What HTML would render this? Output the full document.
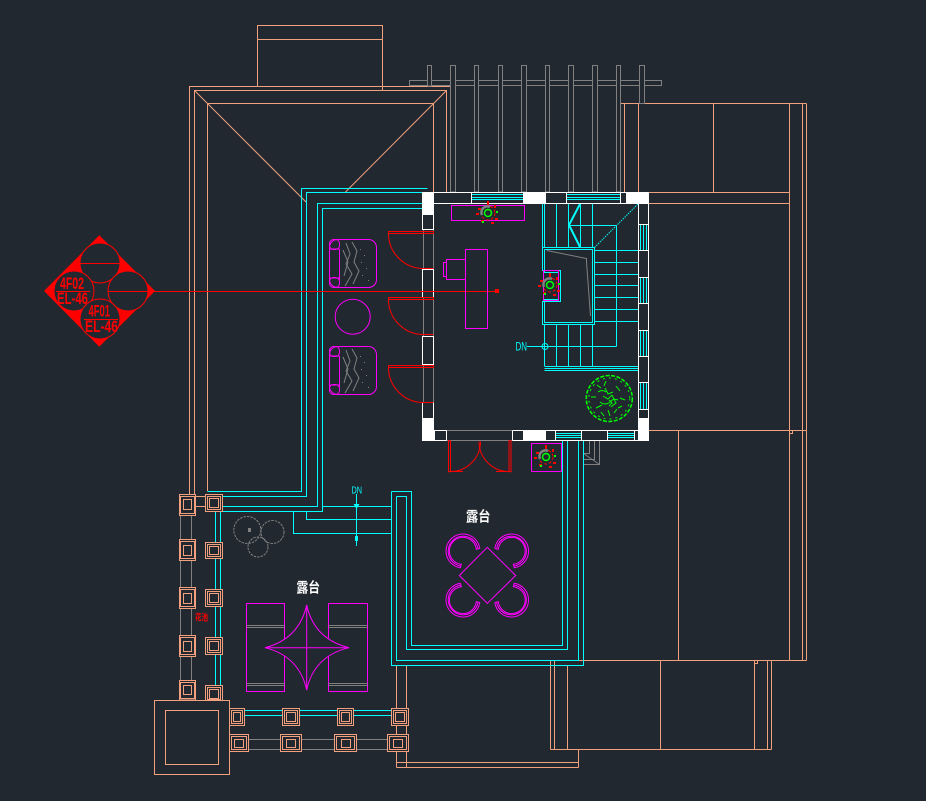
<!DOCTYPE html>
<html><head><meta charset="utf-8">
<style>html,body{margin:0;padding:0;background:#212830;}svg{display:block}</style>
</head><body>
<svg width="926" height="801" viewBox="0 0 926 801" xmlns="http://www.w3.org/2000/svg" fill="none" stroke-width="1">
<rect width="926" height="801" fill="#212830"/>

<!-- ORANGE structure -->
<g stroke="#f2a07e" shape-rendering="crispEdges">
  <rect x="257.5" y="25.5" width="125" height="61"/>
  <line x1="257.5" y1="39.5" x2="382.5" y2="39.5"/>
  <line x1="382.5" y1="86" x2="382.5" y2="90.5"/>
  <polyline points="189.5,494 189.5,86.5 450.5,86.5"/>
  <polyline points="194.5,494 194.5,90.5 446.5,90.5 446.5,192"/>
  <polyline points="207.5,491 207.5,103.5 433.5,103.5 433.5,192"/>
  <line x1="620" y1="103.5" x2="806.5" y2="103.5"/>
  <line x1="620.5" y1="103.5" x2="620.5" y2="192"/>
  <line x1="624.5" y1="103.5" x2="624.5" y2="192"/>
  <line x1="638.5" y1="103.5" x2="638.5" y2="192"/>
  <line x1="713.5" y1="103.5" x2="713.5" y2="192"/>
  <line x1="789.5" y1="103.5" x2="789.5" y2="660.5"/>
  <line x1="802.5" y1="103.5" x2="802.5" y2="660.5"/>
  <line x1="806.5" y1="103.5" x2="806.5" y2="660.5"/>
  <line x1="648.7" y1="192.5" x2="789.5" y2="192.5"/>
  <line x1="648.7" y1="203.5" x2="789.5" y2="203.5"/>
  <line x1="649" y1="430.5" x2="806.5" y2="430.5"/>
  <rect x="789.5" y="430.5" width="3" height="3"/>
  <line x1="678.5" y1="430.5" x2="678.5" y2="660.5"/>
  <line x1="550" y1="660.5" x2="806.5" y2="660.5"/>
  <rect x="754.5" y="660.5" width="3" height="3"/>
  <line x1="550.5" y1="660.5" x2="550.5" y2="749.5"/>
  <line x1="554.5" y1="660.5" x2="554.5" y2="749.5"/>
  <line x1="567.5" y1="666" x2="567.5" y2="749.5"/>
  <line x1="660.5" y1="660.5" x2="660.5" y2="749.5"/>
  <line x1="754.5" y1="660.5" x2="754.5" y2="749.5"/>
  <line x1="767.5" y1="660.5" x2="767.5" y2="749.5"/>
  <line x1="771.5" y1="660.5" x2="771.5" y2="749.5"/>
  <line x1="550.5" y1="749.5" x2="771.5" y2="749.5"/>
  <line x1="578.5" y1="749.5" x2="578.5" y2="767.5"/>
  <line x1="396.5" y1="762.5" x2="578.5" y2="762.5"/>
  <line x1="396.5" y1="767.5" x2="578.5" y2="767.5"/>
  <line x1="396.5" y1="666" x2="396.5" y2="767.5"/>
  <line x1="406.5" y1="666" x2="406.5" y2="767.5"/>
  <line x1="195.5" y1="496.5" x2="205.5" y2="496.5"/>
  <line x1="195.5" y1="506.5" x2="205.5" y2="506.5"/>
</g>
<g stroke="#f2a07e">
  <line x1="194.5" y1="90.5" x2="306" y2="202"/>
  <line x1="446.5" y1="90.5" x2="345.5" y2="192"/>
</g>

<!-- GRAY pergola -->
<g stroke="#808080" shape-rendering="crispEdges">
  <rect x="409.5" y="80.5" width="252" height="5"/>
  <g fill="#212830">
    <rect x="427.5" y="65.5" width="4" height="20.5"/>
    <rect x="450.5" y="65.5" width="5" height="126.5"/>
    <rect x="474.5" y="65.5" width="4" height="126.5"/>
    <rect x="498.5" y="65.5" width="4" height="126.5"/>
    <rect x="521.5" y="65.5" width="5" height="126.5"/>
    <rect x="545.5" y="65.5" width="4" height="126.5"/>
    <rect x="568.5" y="65.5" width="5" height="126.5"/>
    <rect x="592.5" y="65.5" width="5" height="126.5"/>
    <rect x="616.5" y="65.5" width="4" height="126.5"/>
    <rect x="639.5" y="65.5" width="5" height="38"/>
  </g>
  <line x1="180.5" y1="494" x2="180.5" y2="700"/>
  <line x1="191.5" y1="494" x2="191.5" y2="700"/>
  <line x1="229" y1="739.5" x2="408" y2="739.5"/>
  <line x1="229" y1="749.5" x2="408" y2="749.5"/>
  <polyline points="589.5,441 589.5,453.5 583.5,453.5"/>
  <polyline points="594.5,441 594.5,459.5 583.5,459.5"/>
  <polyline points="599.5,441 599.5,464.5 583.5,464.5"/>
  <line x1="446.7" y1="430.5" x2="512.3" y2="430.5"/>
  <line x1="446.7" y1="440.5" x2="512.3" y2="440.5"/>
  <line x1="423.5" y1="230" x2="423.5" y2="269"/>
  <line x1="433.5" y1="230" x2="433.5" y2="269"/>
  <line x1="423.5" y1="297" x2="423.5" y2="337"/>
  <line x1="433.5" y1="297" x2="433.5" y2="337"/>
  <line x1="423.5" y1="365" x2="423.5" y2="403"/>
  <line x1="433.5" y1="365" x2="433.5" y2="403"/>
</g>
<line x1="583.5" y1="453.5" x2="599.5" y2="464.5" stroke="#808080"/>

<!-- CYAN -->
<g stroke="#00ffff" shape-rendering="crispEdges">
  <polyline points="427.5,188.5 301.5,188.5 301.5,491.5 207.5,491.5"/>
  <polyline points="422.5,192.5 306.5,192.5 306.5,496.5 222.5,496.5"/>
  <polyline points="422.5,203.5 317.5,203.5 317.5,506.5 222.5,506.5"/>
  <polyline points="422.5,208.5 322.5,208.5 322.5,511.5 222.5,511.5"/>
  <line x1="322.5" y1="506.5" x2="391.5" y2="506.5"/>
  <polyline points="306.5,511.5 306.5,519.5 391.5,519.5"/>
  <polyline points="293.5,511.5 293.5,533.5 391.5,533.5"/>
  <polyline points="215.5,511.5 215.5,715.5 391.5,715.5"/>
  <polyline points="220.5,511.5 220.5,710.5 391.5,710.5"/>
  <polyline points="391.5,491.5 411.5,491.5 411.5,645.5 562.5,645.5 562.5,441"/>
  <polyline points="396.5,496.5 406.5,496.5 406.5,649.5 567.5,649.5 567.5,441"/>
  <polyline points="391.5,491.5 391.5,665.5 583.5,665.5 583.5,441"/>
  <polyline points="396.5,496.5 396.5,660.5 578.5,660.5 578.5,441"/>
  <line x1="356.5" y1="494" x2="356.5" y2="546"/>
  <line x1="471" y1="194.5" x2="523" y2="194.5"/>
  <line x1="471" y1="197.5" x2="523" y2="197.5"/>
  <line x1="471" y1="199.5" x2="523" y2="199.5"/>
  <line x1="566" y1="194.5" x2="620" y2="194.5"/>
  <line x1="566" y1="197.5" x2="620" y2="197.5"/>
  <line x1="566" y1="199.5" x2="620" y2="199.5"/>
  <line x1="555.7" y1="433.5" x2="581.3" y2="433.5"/>
  <line x1="555.7" y1="435.5" x2="581.3" y2="435.5"/>
  <line x1="555.7" y1="437.5" x2="581.3" y2="437.5"/>
  <line x1="607.7" y1="433.5" x2="634" y2="433.5"/>
  <line x1="607.7" y1="435.5" x2="634" y2="435.5"/>
  <line x1="607.7" y1="437.5" x2="634" y2="437.5"/>
  <path d="M640.5,224.3V250.7M643.5,224.3V250.7M646.5,224.3V250.7M640.5,277V303.3M643.5,277V303.3M646.5,277V303.3M640.5,330V356.3M643.5,330V356.3M646.5,330V356.3M640.5,382.3V409.3M643.5,382.3V409.3M646.5,382.3V409.3"/>
  <polyline points="542.5,247.5 594.5,247.5 594.5,324.5 542.5,324.5 542.5,301.5 560.5,301.5 560.5,270.5 542.5,270.5 542.5,247.5"/>
  <polyline points="544.5,249.5 592.5,249.5 592.5,322.5 544.5,322.5 544.5,299.5 558.5,299.5 558.5,272.5 544.5,272.5 544.5,249.5"/>
  <path d="M542.5,203.7V247.5M544.5,203.7V247.5M556.5,203.7V247.5M568.5,203.7V247.5M580.5,203.7V247.5M592.5,203.7V247.5"/>
  <line x1="568.5" y1="225.5" x2="616.5" y2="225.5"/>
  <line x1="616.5" y1="225.5" x2="616.5" y2="346.5"/>
  <path d="M594.5,250.5H638.3M594.5,262.5H638.3M594.5,274.5H638.3M594.5,285.5H638.3M594.5,297.5H638.3M594.5,309.5H638.3M594.5,321.5H638.3"/>
  <path d="M544.5,324.5V366M556.5,324.5V366M568.5,324.5V366M580.5,324.5V366M592.5,324.5V366"/>
  <line x1="527" y1="346.5" x2="616.5" y2="346.5"/>
  <path d="M544.5,366.5H638.3M544.5,368.5H638.3M544.5,370.5H638.3"/>
</g>
<g stroke="#00ffff">
  <line x1="594.5" y1="247.5" x2="638.3" y2="203.7" stroke-dasharray="1.5 1"/>
  <polyline points="580,204 569,225 580,247" stroke-width="2"/>
  <circle cx="545" cy="346.5" r="3"/>
  <line x1="542" y1="346.5" x2="548" y2="346.5"/>
</g>
<polygon points="353.5,504 359.5,504 356.5,509" fill="#00ffff"/>
<rect x="355" y="536" width="3" height="5" fill="#00ffff"/>
<text x="0" y="0" transform="translate(515.5,350.5) scale(1,1.2)" font-family="Liberation Sans, sans-serif" font-size="10" fill="#00ffff" textLength="11.5" lengthAdjust="spacingAndGlyphs">DN</text>
<text x="0" y="0" transform="translate(351.5,493.5) scale(1,1.2)" font-family="Liberation Sans, sans-serif" font-size="8.5" fill="#00ffff" textLength="10.5" lengthAdjust="spacingAndGlyphs">DN</text>

<!-- COLUMNS -->
<g stroke="#f2a07e" shape-rendering="crispEdges">
  <rect x="154.5" y="700.5" width="75" height="74" fill="#212830"/>
  <rect x="165.5" y="710.5" width="53" height="54"/>
  <g fill="#212830">
    <rect x="179.5" y="494.5" width="16" height="21"/>
    <rect x="179.5" y="539.5" width="16" height="21"/>
    <rect x="179.5" y="587.5" width="16" height="21"/>
    <rect x="179.5" y="635.5" width="16" height="21"/>
    <rect x="179.5" y="680.5" width="16" height="19.5"/>
  </g>
  <rect x="180.5" y="496.5" width="14" height="17"/><rect x="183.5" y="499.5" width="8" height="10"/>
  <rect x="180.5" y="541.5" width="14" height="17"/><rect x="183.5" y="545.5" width="8" height="10"/>
  <rect x="180.5" y="589.5" width="14" height="17"/><rect x="183.5" y="593.5" width="8" height="10"/>
  <rect x="180.5" y="637.5" width="14" height="17"/><rect x="183.5" y="641.5" width="8" height="10"/>
  <rect x="180.5" y="682.5" width="14" height="16"/><rect x="183.5" y="685.5" width="8" height="9"/>
  <g fill="#212830">
    <rect x="205.5" y="494.5" width="17" height="17"/>
    <rect x="205.5" y="542.5" width="17" height="16"/>
    <rect x="205.5" y="589.5" width="17" height="17"/>
    <rect x="205.5" y="637.5" width="17" height="17"/>
    <rect x="205.5" y="685.5" width="17" height="15"/>
  </g>
  <rect x="207.5" y="496.5" width="13" height="13"/><rect x="209.5" y="498.5" width="9" height="9"/>
  <rect x="207.5" y="544.5" width="13" height="12"/><rect x="209.5" y="546.5" width="9" height="8"/>
  <rect x="207.5" y="591.5" width="13" height="13"/><rect x="209.5" y="593.5" width="9" height="9"/>
  <rect x="207.5" y="639.5" width="13" height="13"/><rect x="209.5" y="641.5" width="9" height="9"/>
  <rect x="207.5" y="687.5" width="13" height="12"/><rect x="209.5" y="689.5" width="9" height="9"/>
  <g fill="#212830">
    <rect x="229.5" y="708.5" width="15" height="17"/>
    <rect x="282.5" y="708.5" width="17" height="17"/>
    <rect x="337.5" y="708.5" width="16" height="17"/>
    <rect x="391.5" y="708.5" width="17" height="17"/>
  </g>
  <rect x="231.5" y="710.5" width="11" height="13"/><rect x="233.5" y="712.5" width="7" height="9"/>
  <rect x="284.5" y="710.5" width="13" height="13"/><rect x="286.5" y="712.5" width="9" height="9"/>
  <rect x="339.5" y="710.5" width="12" height="13"/><rect x="341.5" y="712.5" width="8" height="9"/>
  <rect x="393.5" y="710.5" width="13" height="13"/><rect x="395.5" y="712.5" width="9" height="9"/>
  <g fill="#212830">
    <rect x="229.5" y="734.5" width="19" height="17"/>
    <rect x="280.5" y="734.5" width="21" height="17"/>
    <rect x="334.5" y="734.5" width="22" height="17"/>
    <rect x="387.5" y="734.5" width="21" height="17"/>
  </g>
  <rect x="231.5" y="736.5" width="15" height="13"/><rect x="234.5" y="739.5" width="9" height="8"/>
  <rect x="282.5" y="736.5" width="17" height="13"/><rect x="286.5" y="739.5" width="9" height="8"/>
  <rect x="336.5" y="736.5" width="18" height="13"/><rect x="341.5" y="739.5" width="9" height="8"/>
  <rect x="389.5" y="736.5" width="17" height="13"/><rect x="393.5" y="739.5" width="9" height="8"/>
</g>

<!-- WHITE WALLS -->
<g stroke="#ffffff" shape-rendering="crispEdges">
  <line x1="422" y1="192.5" x2="649" y2="192.5"/>
  <line x1="433.5" y1="203.5" x2="638.5" y2="203.5"/>
  <line x1="648.5" y1="192" x2="648.5" y2="441"/>
  <line x1="638.5" y1="203.5" x2="638.5" y2="430.5"/>
  <line x1="422" y1="440.5" x2="446.7" y2="440.5"/>
  <line x1="512.3" y1="440.5" x2="649" y2="440.5"/>
  <line x1="433.5" y1="430.5" x2="446.7" y2="430.5"/>
  <line x1="512.3" y1="430.5" x2="638.5" y2="430.5"/>
  <rect x="422.5" y="214.5" width="11" height="15"/>
  <rect x="422.5" y="269.5" width="11" height="28"/>
  <rect x="422.5" y="336.5" width="11" height="28"/>
  <rect x="422.5" y="402.5" width="11" height="16"/>
  <path d="M471.5,192.5V203.5M523.5,192.5V203.5M545.5,192.5V203.5M566.5,192.5V203.5M620.5,192.5V203.5M626.5,192.5V203.5"/>
  <path d="M638.5,224.5H648.5M638.5,250.5H648.5M638.5,277.5H648.5M638.5,303.5H648.5M638.5,330.5H648.5M638.5,356.5H648.5M638.5,382.5H648.5M638.5,409.5H648.5"/>
  <path d="M434.5,430.5V440.5M446.5,430.5V440.5M512.5,430.5V440.5M555.5,430.5V440.5M581.5,430.5V440.5M607.5,430.5V440.5M634.5,430.5V440.5"/>
</g>
<g fill="#ffffff">
  <rect x="422" y="192" width="12" height="23"/>
  <rect x="422" y="418" width="12" height="23"/>
  <rect x="523" y="192" width="23" height="12"/>
  <rect x="626" y="192" width="23" height="12"/>
  <rect x="638" y="418" width="11" height="23"/>
  <rect x="523" y="430" width="23" height="11"/>
</g>

<!-- RED doors -->
<g stroke="#ff0000">
  <rect x="388.5" y="231.5" width="45" height="2"/>
  <path d="M388.5,233.5 A35,35 0 0 0 423.5,268.5 H433.5"/>
  <rect x="388.5" y="297.5" width="45" height="2"/>
  <path d="M388.5,299.5 A35,35 0 0 0 423.5,334.5 H433.5"/>
  <rect x="388.5" y="365.5" width="45" height="2"/>
  <path d="M388.5,367.5 A35,35 0 0 0 423.5,402.5 H433.5"/>
  <rect x="448.5" y="440.7" width="2" height="31"/>
  <rect x="509" y="440.7" width="2" height="31"/>
  <path d="M450.5,471.5 A30,30 0 0 0 480.5,441.5"/>
  <path d="M509,471.5 A30,30 0 0 1 479,441.5"/>
  <line x1="448" y1="471.5" x2="463" y2="471.5"/>
  <line x1="496" y1="471.5" x2="511" y2="471.5"/>
  <line x1="155" y1="291.5" x2="496" y2="291.5"/>
</g>
<rect x="495" y="289" width="4" height="4" fill="#ff0000"/>

<!-- MAGENTA furniture -->
<g stroke="#ff00ff">
  <rect x="451.5" y="205.5" width="73" height="15"/>
  <rect x="465.5" y="249.5" width="22" height="79"/>
  <rect x="446.5" y="259.5" width="19" height="20"/>
  <rect x="443.5" y="262.5" width="3" height="14"/>
  <rect x="543.5" y="270.5" width="15" height="30"/>
  <rect x="531.5" y="443.5" width="30" height="28"/>
  <circle cx="352.7" cy="316.7" r="17.5"/>
  <rect x="329.5" y="239.5" width="47" height="48" rx="8"/>
  <path d="M339.5,249 V280 M329.5,249 H339.5 M329.5,278 H339.5"/>
  <rect x="329.5" y="239.5" width="10" height="10" rx="4"/>
  <rect x="329.5" y="277.5" width="10" height="10" rx="4"/>
  <rect x="329.5" y="346.5" width="47" height="48" rx="8"/>
  <path d="M339.5,356 V387 M329.5,356 H339.5 M329.5,385 H339.5"/>
  <rect x="329.5" y="346.5" width="10" height="10" rx="4"/>
  <rect x="329.5" y="384.5" width="10" height="10" rx="4"/>
  <rect x="246.5" y="603.5" width="38" height="88"/>
  <rect x="328.5" y="603.5" width="39" height="88"/>
  <path d="M306.7,605 Q314,639 349,647.7 Q314,656 306.7,690 Q299,656 265,647.7 Q299,639 306.7,605 Z" fill="#212830"/>
  <line x1="306.7" y1="605" x2="306.7" y2="690"/>
  <line x1="265" y1="647.7" x2="349" y2="647.7"/>
  <polygon points="487.3,547.3 515.7,575.5 487.3,603.3 459.3,575.5"/>
</g>
<g stroke="#808080">
  <path d="M246.5,625.5H284.5M246.5,627.5H284.5M246.5,683.5H284.5M246.5,685.5H284.5M328.5,625.5H367.5M328.5,627.5H367.5M328.5,683.5H367.5M328.5,685.5H367.5"/>
  <path d="M346,243 L350,254 L346,264 L352,274 L345,286 M352,242 L357,251 L354,262 L359,271 L353,284 M343,250 L348,262 L344,276"/>
  <path d="M346,350 L350,361 L346,371 L352,381 L345,393 M352,349 L357,358 L354,369 L359,378 L353,391 M343,357 L348,369 L344,383"/>
  <path d="M546.7,250.5 L586.5,258.5 L586.5,262 L590.5,316"/>
</g>
<g fill="#808080">
  <rect x="360" y="249" width="1" height="1"/><rect x="364" y="255" width="1" height="1"/><rect x="361" y="262" width="1" height="1"/><rect x="366" y="268" width="1" height="1"/><rect x="362" y="275" width="1" height="1"/><rect x="368" y="280" width="1" height="1"/>
  <rect x="360" y="356" width="1" height="1"/><rect x="364" y="362" width="1" height="1"/><rect x="361" y="369" width="1" height="1"/><rect x="366" y="375" width="1" height="1"/><rect x="362" y="382" width="1" height="1"/><rect x="368" y="387" width="1" height="1"/>
</g>

<!-- terrace chairs -->
<g stroke="#ff00ff">
  <g transform="translate(463,551)">
    <path d="M16.8,-2.7 A17,17 0 1 0 -2.7,16.8 L-1.7,13.3 A13.5,13.5 0 1 1 13.3,-1.7 Z"/>
    <path d="M15,-2.4 A15,15 0 1 0 -2.4,15"/>
  </g>
  <g transform="translate(511.6,551) rotate(90)">
    <path d="M16.8,-2.7 A17,17 0 1 0 -2.7,16.8 L-1.7,13.3 A13.5,13.5 0 1 1 13.3,-1.7 Z"/>
    <path d="M15,-2.4 A15,15 0 1 0 -2.4,15"/>
  </g>
  <g transform="translate(463,600) rotate(-90)">
    <path d="M16.8,-2.7 A17,17 0 1 0 -2.7,16.8 L-1.7,13.3 A13.5,13.5 0 1 1 13.3,-1.7 Z"/>
    <path d="M15,-2.4 A15,15 0 1 0 -2.4,15"/>
  </g>
  <g transform="translate(511.6,600) rotate(180)">
    <path d="M16.8,-2.7 A17,17 0 1 0 -2.7,16.8 L-1.7,13.3 A13.5,13.5 0 1 1 13.3,-1.7 Z"/>
    <path d="M15,-2.4 A15,15 0 1 0 -2.4,15"/>
  </g>
</g>

<!-- lamps -->
<g transform="translate(488,213)">
  <circle r="7" stroke="#ff0000" stroke-dasharray="3 2"/>
  <path d="M-6,2 A6,6 0 0 1 2,-6" stroke="#808080" stroke-width="2.5"/>
  <circle r="3.5" stroke="#00ff00" stroke-width="1.5"/>
  <g fill="#ff0000"><rect x="-10" y="-5" width="3" height="2"/><rect x="6" y="-8" width="2" height="3"/><rect x="7" y="5" width="3" height="2"/><rect x="-7" y="7" width="3" height="2"/><rect x="-1" y="-12" width="2" height="4"/><rect x="-12" y="0" width="3" height="2"/><rect x="3" y="9" width="3" height="2"/></g>
  <g fill="#00ff00"><rect x="8" y="-2" width="2" height="2"/><rect x="-6" y="8" width="2" height="2"/></g>
</g>
<g transform="translate(550,285)">
  <circle r="7" stroke="#ff0000" stroke-dasharray="3 2"/>
  <path d="M-6,2 A6,6 0 0 1 2,-6" stroke="#808080" stroke-width="2.5"/>
  <circle r="3.5" stroke="#00ff00" stroke-width="1.5"/>
  <g fill="#ff0000"><rect x="-10" y="-5" width="3" height="2"/><rect x="6" y="-8" width="2" height="3"/><rect x="7" y="5" width="3" height="2"/><rect x="-7" y="7" width="3" height="2"/><rect x="-1" y="-12" width="2" height="4"/><rect x="-12" y="0" width="3" height="2"/><rect x="3" y="9" width="3" height="2"/></g>
  <g fill="#00ff00"><rect x="8" y="-2" width="2" height="2"/><rect x="-6" y="8" width="2" height="2"/></g>
</g>
<g transform="translate(546,457)">
  <circle r="7" stroke="#ff0000" stroke-dasharray="3 2"/>
  <path d="M-6,2 A6,6 0 0 1 2,-6" stroke="#808080" stroke-width="2.5"/>
  <circle r="3.5" stroke="#00ff00" stroke-width="1.5"/>
  <g fill="#ff0000"><rect x="-10" y="-5" width="3" height="2"/><rect x="6" y="-8" width="2" height="3"/><rect x="7" y="5" width="3" height="2"/><rect x="-7" y="7" width="3" height="2"/><rect x="-1" y="-12" width="2" height="4"/><rect x="-12" y="0" width="3" height="2"/><rect x="3" y="9" width="3" height="2"/></g>
  <g fill="#00ff00"><rect x="8" y="-2" width="2" height="2"/><rect x="-6" y="8" width="2" height="2"/></g>
</g>

<!-- green bush -->
<g stroke="#00ff00">
  <circle cx="609.3" cy="398.5" r="23" stroke-width="1.5" stroke-dasharray="4 1.5"/>
  <circle cx="609.3" cy="398.5" r="20.5" stroke-dasharray="2 4"/>
  <path d="M598,392 q4,-3 8,0 M600,402 q5,4 10,0 q3,-4 8,-2 M605,388 l3,6 l5,-2 M612,395 l4,8 l-5,4 M596,408 l6,-3 M616,386 l4,5 M608,410 l2,6 M603,396 l5,3 l4,-4 M591,397 h5 M620,398 l5,2 M606,381 l-2,5 M597,385 l4,3 M614,413 l3,-4 M601,412 l3,4 M622,406 l-4,2 M609,400 l3,3 l-3,3"/>
</g>

<!-- gray trees -->
<g stroke="#808080" stroke-dasharray="2.5 1">
  <circle cx="247.3" cy="530" r="13.5"/>
  <circle cx="272.5" cy="532" r="11.5"/>
  <circle cx="258" cy="547" r="10"/>
</g>
<rect x="248" y="528" width="3" height="4" fill="#808080"/>

<!-- terrace labels -->
<g font-family="Liberation Sans, Noto Sans CJK SC, sans-serif" font-weight="bold" fill="#ffffff" font-size="12">
  <text x="0" y="0" transform="translate(296.5,592.5) scale(1,1.2)" textLength="23.5" lengthAdjust="spacingAndGlyphs">露台</text>
  <text x="0" y="0" transform="translate(466,521.5) scale(1,1.2)" textLength="24.5" lengthAdjust="spacingAndGlyphs">露台</text>
</g>
<text x="0" y="0" transform="translate(195,620.5) scale(1,1.2)" font-family="Liberation Sans, Noto Sans CJK SC, sans-serif" font-size="7.5" font-weight="bold" fill="#ff0000" textLength="13" lengthAdjust="spacingAndGlyphs">花池</text>

<!-- left marker -->
<g>
  <polygon points="99.3,235.3 155,291 99.3,346.7 44,291" fill="#ff0000"/>
  <rect x="86" y="277" width="28" height="28" fill="#212830"/>
  <g fill="#212830" stroke="#ff0000">
    <circle cx="100" cy="263" r="20"/>
    <circle cx="74" cy="291" r="20"/>
    <circle cx="128" cy="291" r="20"/>
    <circle cx="100" cy="319" r="20"/>
  </g>
  <g stroke="#ff0000">
    <line x1="80" y1="263.5" x2="120" y2="263.5"/>
    <line x1="56" y1="291.5" x2="90" y2="291.5"/>
    <line x1="108" y1="291.5" x2="155" y2="291.5"/>
    <line x1="84" y1="319.5" x2="118" y2="319.5"/>
  </g>
  <g font-family="Liberation Sans, sans-serif" font-weight="bold" fill="#ff0000" font-size="13">
    <text x="0" y="0" transform="translate(60,289) scale(1,1.25)" textLength="24" lengthAdjust="spacingAndGlyphs">4F02</text>
    <text x="0" y="0" transform="translate(57,304) scale(1,1.25)" textLength="31" lengthAdjust="spacingAndGlyphs">EL-46</text>
    <text x="0" y="0" transform="translate(88.5,316.5) scale(1,1.25)" textLength="21.5" lengthAdjust="spacingAndGlyphs">4F01</text>
    <text x="0" y="0" transform="translate(85,332) scale(1,1.25)" textLength="33" lengthAdjust="spacingAndGlyphs">EL-46</text>
  </g>
</g>
</svg>
</body></html>
